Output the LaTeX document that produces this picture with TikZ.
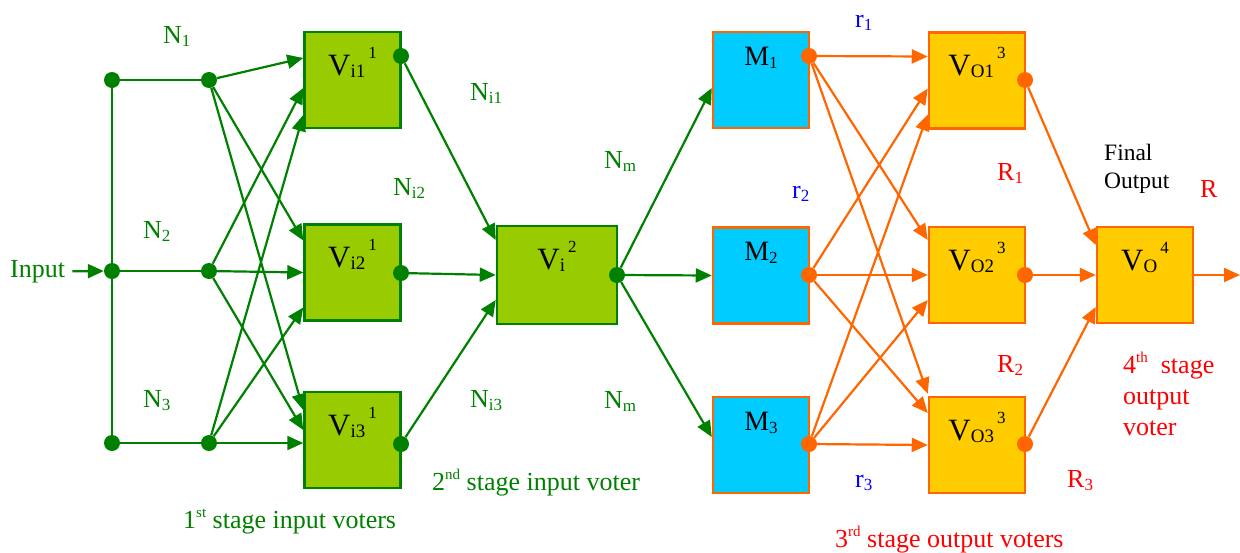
\documentclass[tikz,border=0pt]{standalone}
\usepackage{fontspec}
\setmainfont{Liberation Serif}
\usepackage{tikz}
\usetikzlibrary{arrows.meta}
\definecolor{verde}{HTML}{008000}
\definecolor{verdechiaro}{HTML}{99CC00}
\definecolor{arancio}{HTML}{FF6600}
\definecolor{ciano}{HTML}{00CCFF}
\definecolor{giallo}{HTML}{FFCC00}
\definecolor{blu}{HTML}{0000FF}
\definecolor{rosso}{HTML}{FF0000}
\newcommand{\pedice}[1]{\raisebox{-3pt}{\fontsize{17}{17}\selectfont#1}}
\newcommand{\apice}[1]{\raisebox{11pt}{\fontsize{15}{15}\selectfont#1}}
\newcommand{\votante}[3]{#1\raisebox{-2pt}{\fontsize{19}{19}\selectfont#2}\hspace{3pt}\raisebox{17pt}{\fontsize{17}{17}\selectfont#3}}

\begin{document}
\begin{tikzpicture}[x=1pt,y=-1pt,
        every node/.style={font=\fontsize{26}{31}\selectfont},
        filo/.style={line width=2.2pt},
        freccia/.style={filo, -{Triangle[length=16pt,width=14pt]}},
        punto/.style={circle, fill, inner sep=0pt, minimum size=16pt},
        blocco/.style={draw, line width=2.5pt, minimum width=96pt,
            minimum height=96pt, inner sep=0pt},
        titolo/.style={anchor=north, inner sep=0pt, yshift=-16pt,
            font=\fontsize{31}{34}\selectfont},
        testo/.style={anchor=base west, inner sep=0pt}]
        \useasboundingbox (0,0) rectangle (1240,552);

        % Voter di ingresso (1o e 2o stadio)
        \node[blocco, fill=verdechiaro, draw=verde,
            label={[titolo]north:\votante{V}{i1}{1}}] (vi1) at (352.5,80) {};
        \node[blocco, fill=verdechiaro, draw=verde,
            label={[titolo]north:\votante{V}{i2}{1}}] (vi2) at (352.5,272.5) {};
        \node[blocco, fill=verdechiaro, draw=verde,
            label={[titolo]north:\votante{V}{i3}{1}}] (vi3) at (352.5,440) {};
        \node[blocco, fill=verdechiaro, draw=verde, minimum width=120pt,
            minimum height=98pt,
            label={[titolo]north:\votante{V}{i}{2}}] (v2) at (557,275) {};

        % Moduli
        \foreach \m/\y in {1/80, 2/275.5, 3/445}{
                \node[blocco, fill=ciano, draw=arancio,
                    label={[titolo, font=\fontsize{28}{30}\selectfont]north:M\pedice{\m}}]
                    (m\m) at (761,\y) {};
            }

        % Voter di uscita (3o e 4o stadio)
        \foreach \v/\y in {1/80.5, 2/275, 3/445}{
                \node[blocco, fill=giallo, draw=arancio,
                    label={[titolo]north:\votante{V}{O\v}{3}}] (vo\v) at (977,\y) {};
            }
        \node[blocco, fill=giallo, draw=arancio,
            label={[titolo]north:\votante{V}{O}{4}}] (vo4) at (1145,275) {};

        % Punti
        \foreach \p/\x/\y in {a1/112/80, a2/112/271, a3/112/443,
                b1/209/80, b2/209/271, b3/209/443,
                c1/401/56, c2/401/273, c3/401/444, d/617/275}{
                \node[punto, verde] (\p) at (\x,\y) {};
            }
        \foreach \p/\x/\y in {e1/809/56, e2/809/275, e3/809/444,
                f1/1025/80, f2/1025/275, f3/1025/444}{
                \node[punto, arancio] (\p) at (\x,\y) {};
            }

        % Ingresso
        \node[testo, verde] (input) at (10,277) {Input};
        \draw[freccia, verde] ([xshift=7pt]input.east) -- (a2);
        \draw[filo, verde] (a1) -- (a2) -- (a3);
        \draw[filo, verde] (a1) -- (b1);
        \draw[filo, verde] (a2) -- (b2);
        \draw[filo, verde] (a3) -- (b3);

        % Collegamenti verdi
        \foreach \s/\t/\dy in {b1/vi1/22, b1/vi2/32, b1/vi3/30,
                b2/vi1/-8, b2/vi2/0, b2/vi3/10,
                b3/vi1/-35, b3/vi2/-35, b3/vi3/-3,
                c1/v2/35, c2/v2/0, c3/v2/-25,
                d/m1/-8, d/m2/0, d/m3/8}{
                \draw[freccia, verde] (\s) -- ([yshift=\dy pt]\t.west);
            }

        % Collegamenti arancio
        \foreach \s/\t/\dy in {e1/vo1/24, e1/vo2/35,
                e2/vo1/-8, e2/vo2/0, e2/vo3/32,
                e3/vo1/-34, e3/vo2/-25, e3/vo3/0,
                f1/vo4/30, f2/vo4/0, f3/vo4/-32}{
                \draw[freccia, arancio] (\s) -- ([yshift=\dy pt]\t.west);
            }
        \draw[freccia, arancio] (e1) -- ([yshift=2pt]vo3.north west);
        \coordinate (uscita) at (1240,275);
        \draw[freccia, arancio] (vo4.east) -- (uscita);

        % Etichette dei segnali
        \node[testo, verde] (n1) at (163,43) {N\pedice{1}};
        \node[testo, verde] (n2) at (143,238) {N\pedice{2}};
        \node[testo, verde] (n3) at (143,407) {N\pedice{3}};
        \node[testo, verde] (ni1) at (470,100) {N\pedice{i1}};
        \node[testo, verde] (ni2) at (393,195) {N\pedice{i2}};
        \node[testo, verde] (ni3) at (470,407) {N\pedice{i3}};
        \node[testo, verde] (nm1) at (604,168) {N\pedice{m}};
        \node[testo, verde] (nm2) at (604,408) {N\pedice{m}};
        \node[testo, blu] (r1) at (855,27) {r\pedice{1}};
        \node[testo, blu] (r2) at (792,198) {r\pedice{2}};
        \node[testo, blu] (r3) at (855,487) {r\pedice{3}};
        \node[testo, rosso] (ru1) at (997,180) {R\pedice{1}};
        \node[testo, rosso] (ru2) at (997,372) {R\pedice{2}};
        \node[testo, rosso] (ru3) at (1067,487) {R\pedice{3}};
        \node[testo, rosso] (rfin) at (1200,197) {R};
        \node[testo, align=left, font=\fontsize{23.5}{28}\selectfont]
            (finale) at (1104,188) {Final\\Output};

        % Didascalie degli stadi
        \node[testo, verde] (stadio1) at (183,528) {1\apice{st} stage input voters};
        \node[testo, verde] (stadio2) at (432,490) {2\apice{nd} stage input voter};
        \node[testo, rosso] (stadio3) at (835,547) {3\apice{rd} stage output voters};
        \node[testo, rosso, align=left, font=\fontsize{26}{31}\selectfont]
            (stadio4) at (1123,435) {4\apice{th}\ \ stage\\output\\voter};
    \end{tikzpicture}
\end{document}
